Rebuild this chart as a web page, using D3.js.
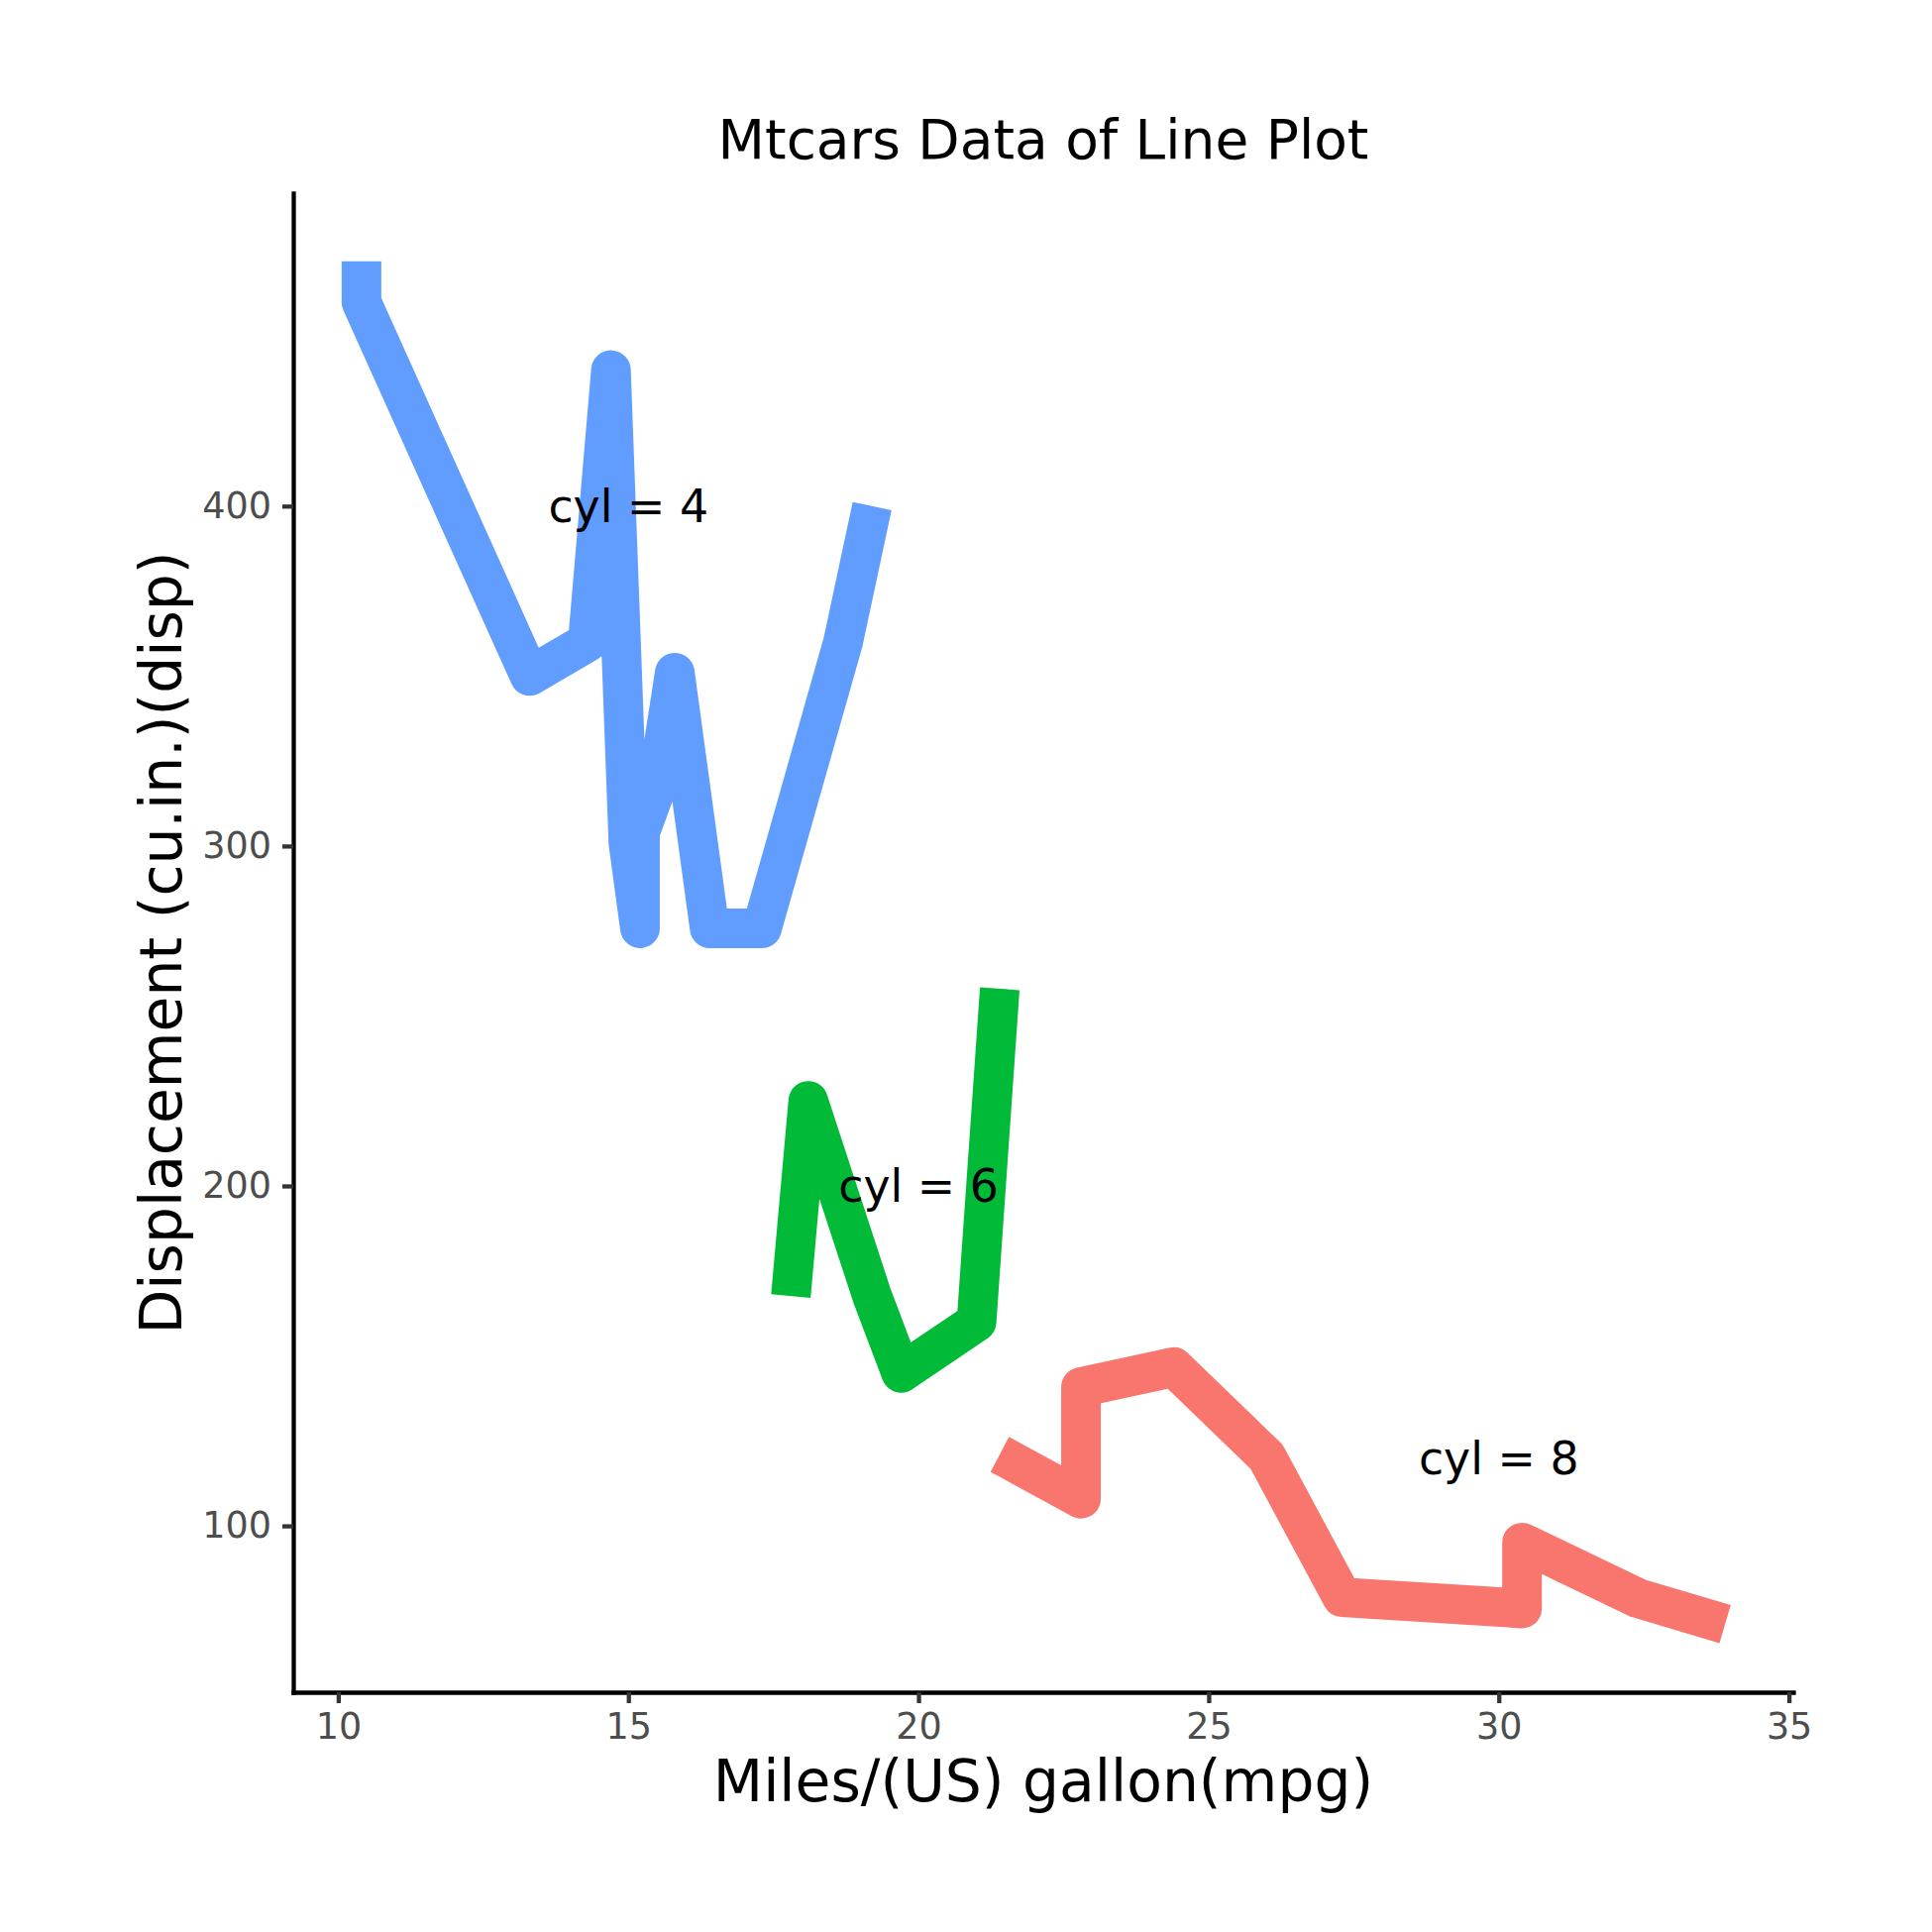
<!DOCTYPE html>
<html>
<head>
<meta charset="utf-8">
<script src="https://cdn.jsdelivr.net/npm/d3@7"></script>
<style>
  body { margin: 0; background: #fff; }
  text { font-family: "DejaVu Sans", sans-serif; }
</style>
</head>
<body>
<div id="chart"></div>
<script>
// mtcars, one line per cyl group, points already in mpg order
var mpg4 = [21.4, 21.5, 22.8, 22.8, 24.4, 26.0, 27.3, 30.4, 30.4, 32.4, 33.9];
var disp4 = [121, 120.1, 108, 140.8, 146.7, 120.3, 79, 75.7, 95.1, 78.7, 71.1];
var mpg6 = [17.8, 18.1, 19.2, 19.7, 21.0, 21.0, 21.4];
var disp6 = [167.6, 225, 167.6, 145, 160, 160, 258];
var mpg8 = [10.4, 10.4, 13.3, 14.3, 14.7, 15.0, 15.2, 15.2, 15.5, 15.8, 16.4, 17.3, 18.7, 19.2];
var disp8 = [472, 460, 350, 360, 440, 301, 275.8, 304, 318, 351, 275.8, 275.8, 360, 400];

var groups = ["4", "6", "8"];
var groupColors = ["#F8766D", "#00BA38", "#619CFF"];

// text annotations (placed as in the original figure)
var labelText = ["cyl = 4", "cyl = 6", "cyl = 8"];
var labelMpg = [15, 20, 30];
var labelDisp = [400, 200, 120];

var xTicks = [10, 15, 20, 25, 30, 35];
var yTicks = [100, 200, 300, 400];

var W = 1950, H = 1950;
var panel = {left: 296, right: 1810, top: 195, bottom: 1708};

var svg = d3.select("#chart").append("svg")
    .attr("width", W)
    .attr("height", H);

svg.append("rect").attr("width", W).attr("height", H).attr("fill", "#fff");

//build line data from the arrays
var lineData = [
    {cyl: groups[0], pts: mpg4.map(function(d, i){ return [d, disp4[i]]; })},
    {cyl: groups[1], pts: mpg6.map(function(d, i){ return [d, disp6[i]]; })},
    {cyl: groups[2], pts: mpg8.map(function(d, i){ return [d, disp8[i]]; })}
];

// ggplot style 5% expansion
function expand(ext) {
    var pad = (ext[1] - ext[0]) * 0.05;
    return [ext[0] - pad, ext[1] + pad];
}
var xExt = expand(d3.extent(mpg4.concat(mpg6, mpg8)));
var yExt = expand(d3.extent(disp4.concat(disp6, disp8)));

var x = d3.scaleLinear().domain(xExt).range([panel.left, panel.right]);
var y = d3.scaleLinear().domain(yExt).range([panel.bottom, panel.top]);

var color = d3.scaleOrdinal().domain(groups).range(groupColors);

var line = d3.line()
    .x(function(d){ return x(d[0]); })
    .y(function(d){ return y(d[1]); });

svg.append("g").selectAll("path")
    .data(lineData)
    .enter()
    .append("path")
    .attr("d", function(d){ return line(d.pts); })
    .attr("fill", "none")
    .attr("stroke", function(d){ return color(d.cyl); })
    .attr("stroke-width", 40)
    .attr("stroke-linejoin", "round")
    .attr("stroke-linecap", "butt");

//axes
var xAxis = svg.append("g")
    .attr("transform", "translate(0," + panel.bottom + ")")
    .call(d3.axisBottom(x).tickValues(xTicks).tickSize(11).tickSizeOuter(0).tickPadding(10));
var yAxis = svg.append("g")
    .attr("transform", "translate(" + panel.left + ",0)")
    .call(d3.axisLeft(y).tickValues(yTicks).tickSize(11).tickSizeOuter(0).tickPadding(11));

[xAxis, yAxis].forEach(function(ax){
    ax.select(".domain")
      .attr("stroke", "#000")
      .attr("stroke-width", 4.3)
      .attr("stroke-linecap", "square");
    ax.selectAll(".tick line").attr("stroke", "#333333").attr("stroke-width", 4.3);
    ax.selectAll(".tick text")
      .attr("fill", "#4D4D4D")
      .style("font-size", "36.5px")
      .style("font-family", "DejaVu Sans, sans-serif");
});

//annotations
svg.append("g").selectAll("text")
    .data(labelText)
    .enter()
    .append("text")
    .attr("x", function(d, i){ return x(labelMpg[i]); })
    .attr("y", function(d, i){ return y(labelDisp[i]); })
    .attr("dy", "0.36em")
    .attr("text-anchor", "middle")
    .style("font-size", "45.8px")
    .attr("fill", "#000")
    .text(function(d){ return d; });

var midX = (panel.left + panel.right) / 2;
var midY = (panel.top + panel.bottom) / 2;

svg.append("text")
    .attr("x", midX)
    .attr("y", 160)
    .attr("text-anchor", "middle")
    .style("font-size", "55px")
    .text("Mtcars Data of Line Plot");

svg.append("text")
    .attr("x", midX)
    .attr("y", 1818)
    .attr("text-anchor", "middle")
    .style("font-size", "58.3px")
    .text("Miles/(US) gallon(mpg)");

svg.append("text")
    .attr("transform", "translate(183," + midY + ") rotate(-90)")
    .attr("text-anchor", "middle")
    .style("font-size", "58.3px")
    .text("Displacement (cu.in.)(disp)");
</script>
</body>
</html>
